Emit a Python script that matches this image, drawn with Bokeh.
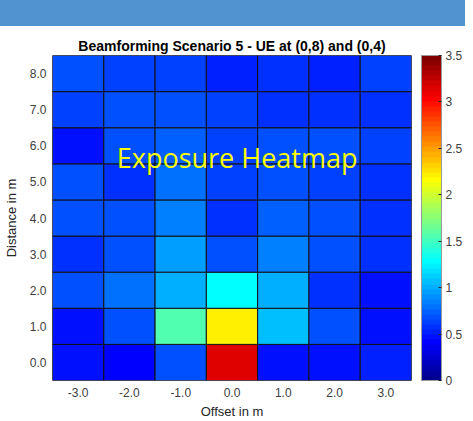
import numpy as np
from bokeh.plotting import figure
from bokeh.models import (ColumnDataSource, LinearColorMapper, ColorBar, FixedTicker,
                          NumeralTickFormatter, Label, Div)
from bokeh.layouts import column
from bokeh.embed import file_html
from bokeh.resources import INLINE

# ---------------- data ----------------
offsets = [-3, -2, -1, 0, 1, 2, 3]          # x: Offset in m
distances = [0, 1, 2, 3, 4, 5, 6, 7, 8]     # y: Distance in m
exposure_d0 = [0.44, 0.41, 0.69, 3.12, 0.49, 0.46, 0.50]
exposure_d1 = [0.49, 0.71, 1.55, 2.19, 1.09, 0.66, 0.49]
exposure_d2 = [0.66, 0.82, 0.99, 1.26, 0.99, 0.60, 0.49]
exposure_d3 = [0.60, 0.69, 0.93, 0.69, 0.85, 0.71, 0.55]
exposure_d4 = [0.66, 0.71, 0.84, 0.60, 0.74, 0.69, 0.55]
exposure_d5 = [0.69, 0.60, 0.77, 0.63, 0.69, 0.63, 0.55]
exposure_d6 = [0.49, 0.69, 0.74, 0.65, 0.69, 0.66, 0.63]
exposure_d7 = [0.63, 0.69, 0.66, 0.65, 0.55, 0.55, 0.58]
exposure_d8 = [0.66, 0.63, 0.63, 0.52, 0.60, 0.52, 0.63]
exposure_rows = [exposure_d0, exposure_d1, exposure_d2, exposure_d3, exposure_d4,
                 exposure_d5, exposure_d6, exposure_d7, exposure_d8]
color_ticks = [0, 0.5, 1, 1.5, 2, 2.5, 3, 3.5]
color_low, color_high = 0, 3.5

title_text = "Beamforming Scenario 5 - UE at (0,8) and (0,4)"
overlay_text = "Exposure Heatmap"

BLUE = "#5193d0"
TICK_COLOR = "#404040"


def jet(n=64):
    m = int(np.ceil(n / 4))
    u = np.concatenate([np.arange(1, m + 1) / m, np.ones(m - 1), np.arange(m, 0, -1) / m])
    g = int(np.ceil(m / 2)) - (1 if n % 4 == 1 else 0) + np.arange(1, len(u) + 1)
    r = g + m
    b = g - m
    g = g[g <= n]
    r = r[r <= n]
    b = b[b >= 1]
    J = np.zeros((n, 3))
    J[r - 1, 0] = u[:len(r)]
    J[g - 1, 1] = u[:len(g)]
    J[b - 1, 2] = u[len(u) - len(b):]
    return ["#%02x%02x%02x" % tuple(int(round(c * 255)) for c in rgb) for rgb in J]


xs, ys, vs = [], [], []
for d, vals in zip(distances, exposure_rows):
    for o, v in zip(offsets, vals):
        xs.append(o)
        ys.append(d)
        vs.append(v)
src = ColumnDataSource(dict(x=xs, y=ys, v=vs))

mapper = LinearColorMapper(palette=jet(64), low=color_low, high=color_high)

p = figure(width=465, height=395,
           x_range=(min(offsets) - 0.5, max(offsets) + 0.5),
           y_range=(min(distances) - 0.5, max(distances) + 0.5),
           output_backend="svg", toolbar_location=None,
           min_border_left=43, min_border_right=51,
           min_border_top=29, min_border_bottom=40,
           background_fill_color="white", border_fill_color="white")

p.title.text = title_text
p.title.align = "center"
p.title.text_font = "Liberation Sans"
p.title.text_font_size = "14px"
p.title.text_font_style = "bold"
p.title.text_color = "black"
p.title.standoff = 3

p.rect(x="x", y="y", width=1, height=1, source=src,
       fill_color={"field": "v", "transform": mapper},
       line_color="#111111", line_width=1)

p.grid.visible = False
p.outline_line_color = "#9a9a9a"
p.outline_line_width = 1

for ax in (p.xaxis[0], p.yaxis[0]):
    ax.major_tick_in = 0
    ax.major_tick_out = 0
    ax.minor_tick_in = 0
    ax.minor_tick_out = 0
    ax.axis_line_color = None
    ax.major_label_text_font = "Liberation Sans"
    ax.major_label_text_font_size = "12px"
    ax.major_label_text_color = TICK_COLOR
    ax.axis_label_text_font = "Liberation Sans"
    ax.axis_label_text_font_size = "13px"
    ax.axis_label_text_font_style = "normal"
    ax.axis_label_text_color = "#262626"
    ax.formatter = NumeralTickFormatter(format="0.0")

p.xaxis.ticker = FixedTicker(ticks=offsets)
p.yaxis.ticker = FixedTicker(ticks=distances)
p.xaxis.axis_label = "Offset in m"
p.yaxis.axis_label = "Distance in m"
p.xaxis.major_label_standoff = 7
p.yaxis.major_label_standoff = 6
p.xaxis.axis_label_standoff = 4
p.yaxis.axis_label_standoff = 8

# invisible spacer bar to push the real colour bar 10px away from the frame
spacer_cb = ColorBar(color_mapper=mapper, ticker=FixedTicker(ticks=[]),
                     width=10, margin=0, padding=0, location="top_left",
                     scale_alpha=0, bar_line_color=None,
                     major_tick_line_color=None, minor_tick_line_color=None,
                     label_standoff=0, major_label_text_font_size="1px",
                     background_fill_color=None, border_line_color=None)
p.add_layout(spacer_cb, "right")

cb = ColorBar(color_mapper=mapper, ticker=FixedTicker(ticks=color_ticks),
              width=20, margin=0, padding=0, location="top_left",
              major_tick_in=3, major_tick_out=0, major_tick_line_color="#262626",
              minor_tick_line_color=None,
              bar_line_color="#9a9a9a",
              label_standoff=4,
              major_label_text_font="Liberation Sans",
              major_label_text_font_size="12px",
              major_label_text_color=TICK_COLOR,
              major_label_overrides={t: ("%g" % t) for t in color_ticks},
              background_fill_color=None, border_line_color=None)
p.add_layout(cb, "right")

lbl = Label(x=0.1, y=5.68, text=overlay_text, text_font="Open Sans",
            text_font_size="27px", text_color="#ffff00",
            text_align="center", text_baseline="middle")
p.add_layout(lbl)

# blue slide band above the white chart panel
top_band = Div(text="", width=481, height=34, margin=(-8, 0, 0, -8),
               styles={"background-color": BLUE})

layout = column(top_band, p, spacing=0)

open("out.html", "w").write(file_html(layout, INLINE))
